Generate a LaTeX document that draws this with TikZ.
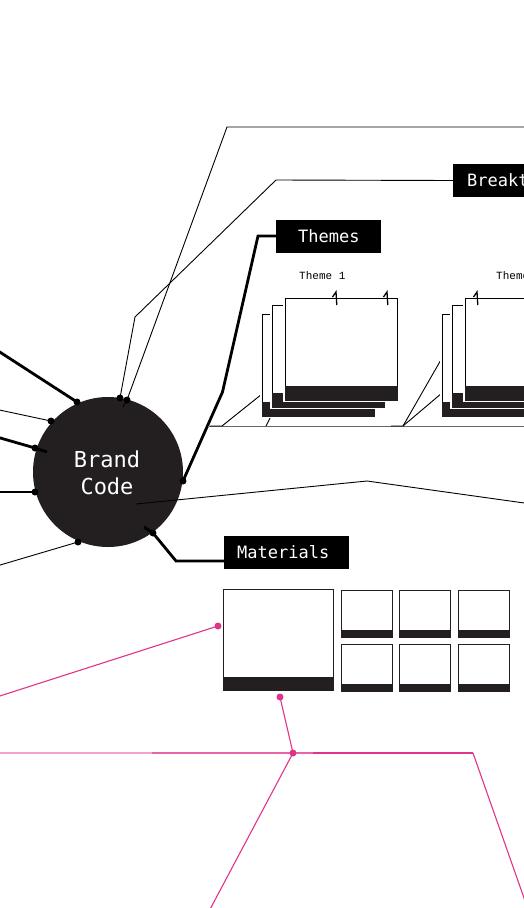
\documentclass[tikz,border=0pt]{standalone}
\usepackage{fontspec}
\newfontfamily\labelmono{DejaVu Sans Mono}
\newfontfamily\lightmono{Liberation Mono}
\definecolor{ink}{HTML}{231F20}
\definecolor{pinkline}{HTML}{E0338A}
\newcommand{\themecard}[2]{%
  \fill[white] (#1-1.6,#2-1.6) rectangle (#1+113.6,#2+103.6);
  \draw[black, line width=1pt] (#1,#2) rectangle (#1+112,#2+102);
  \fill[ink] (#1-0.5,#2+88) rectangle (#1+112.5,#2+102.5);}
\newcommand{\matcard}[5]{%
  \draw[ink, line width=1pt] (#1,#2) rectangle (#3,#4);
  \fill[ink] (#1-0.5,#4-#5) rectangle (#3+0.5,#4+0.5);}
\newcommand{\clipmark}[2]{%
  \draw[black, line width=1.3pt] (#1-3.5,#2+5) -- (#1,#2) -- (#1+0.8,#2+13);}
\begin{document}
\begin{tikzpicture}[x=1pt,y=-1pt,
  conn/.style={draw=black, line width=0.9pt},
  connthick/.style={draw=black, line width=2.8pt, line join=miter},
  dot/.style={circle, fill=black, inner sep=0pt, minimum size=7pt},
  pdot/.style={circle, fill=pinkline, inner sep=0pt, minimum size=7pt},
  pinkconn/.style={draw=pinkline, line width=1.1pt},
  labelbox/.style={fill=black, text=white, font=\labelmono\fontsize{17}{17}\selectfont,
    minimum height=33pt, text height=12.4pt, text depth=0pt, align=left, inner ysep=0pt},
  smalllabel/.style={font=\lightmono\fontsize{11}{11}\selectfont, inner sep=0pt, anchor=base west}
]
\useasboundingbox (0,0) rectangle (524,908);

% ---------- upper lines to Breakthrough and off-page ----------
\coordinate (tA0) at (135,317);
\coordinate (tA1) at (276,180);
\coordinate (tB0) at (123,407);
\coordinate (tB1) at (227,127);
\coordinate (tB2) at (540,127);
\node[labelbox, anchor=west, inner xsep=14pt, text width=130pt] (brk) at (453,180.5) {Breakthrough};

% ---------- middle thin line ----------
\coordinate (m0) at (136,504);
\coordinate (m1) at (367,481);
\coordinate (m2) at (540,505.2);

% ---------- central circle ----------
\node[circle, fill=ink, minimum size=150pt, inner sep=0pt] (bc) at (108,472) {};
\draw[conn] (m0) -- (m1) -- (m2);

% dots on the circle
\node[dot] (dL1) at (77,402) {};
\node[dot] (dL2) at (51,421) {};
\node[dot] (dL3) at (35,448) {};
\node[dot] (dL4) at (35,492) {};
\node[dot] (dL5) at (78,542) {};
\node[dot] (dT1) at (120,398) {};
\node[dot] (dT2) at (127,400) {};
\node[dot] (dTh) at (183,481) {};
\node[dot] (dMa) at (153,533) {};

% left free ends
\coordinate (eL1) at (-8,347);
\coordinate (eL2) at (-8,408.4);
\coordinate (eL3) at (-8,435.6);
\coordinate (iL3) at (47,452);
\coordinate (eL4) at (-8,492);
\coordinate (eL5) at (-8,567.4);

\draw[connthick] (eL1) -- (dL1.center);
\draw[conn] (eL2) -- (dL2.center);
\draw[connthick] (eL3) -- (dL3.center) -- (iL3);
\draw[connthick] (eL4) -- (dL4.center);
\draw[conn] (eL5) -- (dL5.center);

\draw[conn] (dT1.center) -- (tA0) -- (tA1) -- (brk.west);
\draw[conn] (tB0) -- (dT2.center) -- (tB1) -- (tB2);

% ---------- Themes ----------
\node[labelbox, anchor=west, inner xsep=22pt, text width=61pt] (thm) at (276,236) {Themes};
\coordinate (th1) at (222.5,392);
\coordinate (th2) at (258,236);
\draw[connthick] (dTh.center) -- (th1) -- (th2) -- (thm.west);

% base line and connectors to the card stacks
\coordinate (bs0) at (208,426);
\coordinate (bs1) at (540,426);
\draw[black!60, line width=0.8pt] (bs0) -- (bs1);
\coordinate (b1a) at (210,426);
\coordinate (b1b) at (222,426);
\coordinate (b1c) at (266,426);
\coordinate (b2a) at (391,426);
\coordinate (b2b) at (403,426);
\draw[conn] (b1a) -- (b1b) -- (262,394);
\draw[conn] (b1c) -- (272,414);
\draw[conn] (b2a) -- (b2b) -- (442,358);
\draw[conn] (b2b) -- (442,393);

% card stacks
\themecard{262}{314}
\themecard{272}{305}
\themecard{285}{298}
\themecard{442}{314}
\themecard{452}{305}
\themecard{465}{298}
\clipmark{336}{292}
\clipmark{387}{292}
\clipmark{477}{292}

\node[smalllabel] (t1lab) at (299,279) {Theme 1};
\node[smalllabel] (t2lab) at (496,279) {Theme 2};

% ---------- circle text ----------
\node[anchor=base, text=white, font=\labelmono\fontsize{22}{22}\selectfont, inner sep=0pt] (bct1) at (107,467) {Brand};
\node[anchor=base, text=white, font=\labelmono\fontsize{22}{22}\selectfont, inner sep=0pt] (bct2) at (107,494) {Code};

% ---------- Materials ----------
\node[labelbox, anchor=west, inner xsep=13pt, text width=99pt] (mat) at (224,552.5) {Materials};
\coordinate (ma0) at (144,527);
\coordinate (ma1) at (176,561);
\draw[connthick] (ma0) -- (dMa.center) -- (ma1) -- (mat.west |- ma1);

\matcard{223}{589}{333}{690}{13}
\matcard{341}{590}{392}{637}{7}
\matcard{399}{590}{450}{637}{7}
\matcard{458}{590}{509}{637}{7}
\matcard{341}{644}{392}{691}{7}
\matcard{399}{644}{450}{691}{7}
\matcard{458}{644}{509}{691}{7}

% ---------- pink lines ----------
\node[pdot] (p1) at (218,626) {};
\node[pdot] (p2) at (280,697) {};
\node[pdot] (pj) at (293,753) {};
\coordinate (pe1) at (-8,698.5);
\coordinate (ph0) at (0,753);
\coordinate (ph1) at (152,753);
\coordinate (ph2) at (313,753);
\coordinate (ph3) at (473,753);
\coordinate (pe2) at (207,915);
\coordinate (pe3) at (530,915);
\draw[pinkconn] (pe1) -- (p1.center);
\draw[pinkconn] (p2.center) -- (pj.center);
\draw[pinkconn, draw opacity=0.45] (ph0) -- (ph1);
\draw[pinkconn, draw opacity=0.75] (ph1) -- (ph2);
\draw[pinkconn] (ph2) -- (ph3);
\draw[pinkconn] (pj.center) -- (pe2);
\draw[pinkconn] (ph3) -- (pe3);
\end{tikzpicture}
\end{document}
